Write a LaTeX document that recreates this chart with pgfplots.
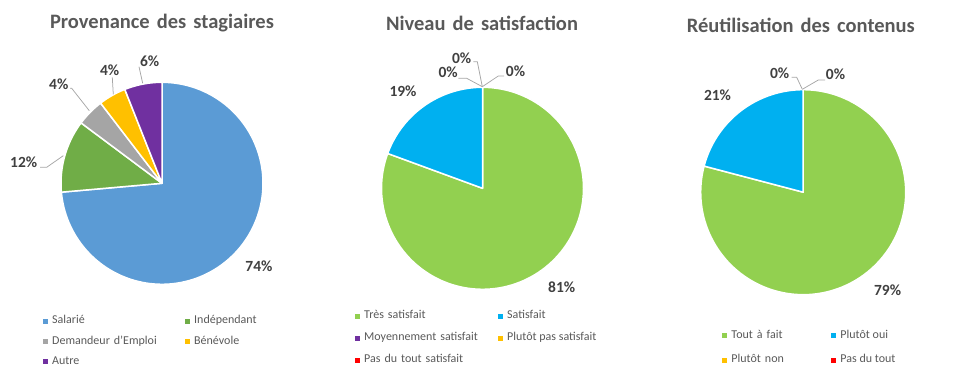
\documentclass[border=0pt]{standalone}
\usepackage{fontspec}
\setmainfont{Carlito}
\usepackage{pgfplots}
\pgfplotsset{compat=1.18}
\definecolor{pBlue}{HTML}{5B9BD5}
\definecolor{pGreen}{HTML}{70AD47}
\definecolor{pGray}{HTML}{A5A5A5}
\definecolor{pGold}{HTML}{FFC000}
\definecolor{pPurple}{HTML}{7030A0}
\definecolor{sGreen}{HTML}{92D050}
\definecolor{sBlue}{HTML}{00B0F0}
\definecolor{sRed}{HTML}{FF0000}
\definecolor{cTitle}{HTML}{595959}
\definecolor{cLeg}{HTML}{595959}
\definecolor{cLab}{HTML}{404040}
\definecolor{cLead}{HTML}{A6A6A6}
\pgfplotsset{
  frame/.style={
    xmin=0, xmax=962, ymin=-380, ymax=0,
    width=962pt, height=380pt, scale only axis, hide axis, clip=false,
    at={(0pt,0pt)}, anchor=south west,
    legend columns=2, legend cell align=left,
    legend image code/.code={\fill[##1, draw=none] (0pt,-2.5pt) rectangle (5pt,2.5pt);},
    legend style={draw=none, fill=none, inner sep=0pt, anchor=north west,
      font=\fontsize{12}{14}\selectfont, text=cLeg,
      nodes={inner sep=0pt, text height=8pt, text depth=2.5pt, anchor=west},
      /tikz/column 1/.style={column sep=4pt},
      /tikz/column 3/.style={column sep=4pt}},
  },
  slice/.style={draw=white, line width=1.5pt, line join=round, samples=120, forget plot},
}
\tikzset{
  lab/.style={font=\bfseries\fontsize{15.5}{18}\selectfont, text=cLab, inner sep=0pt, anchor=center},
  ttl/.style={font=\bfseries\fontsize{20.5}{24}\selectfont, text=cTitle, inner sep=0pt, anchor=base},
  lead/.style={draw=cLead, line width=0.75pt},
}
\begin{document}
\begin{tikzpicture}
\path[use as bounding box] (0pt,0pt) rectangle (962pt,380pt);
% ---------------- Chart 1 : Provenance des stagiaires (center 162,183.3 ; R=101)
\begin{axis}[frame,
  legend style={at={(0.0447,0.1691)}, row sep=9.8pt,
    /tikz/column 2/.style={column sep=0pt, nodes={text width=133pt, align=left}}}]
\addplot[slice, fill=pBlue, domain=0:73.6]
  ({162+101*cos(90-3.6*x)},{-183.3+101*sin(90-3.6*x)}) -- (162,-183.3) -- cycle;
\addplot[slice, fill=pGreen, domain=73.6:85.2]
  ({162+101*cos(90-3.6*x)},{-183.3+101*sin(90-3.6*x)}) -- (162,-183.3) -- cycle;
\addplot[slice, fill=pGray, domain=85.2:89.6]
  ({162+101*cos(90-3.6*x)},{-183.3+101*sin(90-3.6*x)}) -- (162,-183.3) -- cycle;
\addplot[slice, fill=pGold, domain=89.6:94.0]
  ({162+101*cos(90-3.6*x)},{-183.3+101*sin(90-3.6*x)}) -- (162,-183.3) -- cycle;
\addplot[slice, fill=pPurple, domain=94.0:100]
  ({162+101*cos(90-3.6*x)},{-183.3+101*sin(90-3.6*x)}) -- (162,-183.3) -- cycle;
\addlegendimage{fill=pBlue}\addlegendentry{Salarié}
\addlegendimage{fill=pGreen}\addlegendentry{Indépendant}
\addlegendimage{fill=pGray}\addlegendentry{Demandeur d'Emploi}
\addlegendimage{fill=pGold}\addlegendentry{Bénévole}
\addlegendimage{fill=pPurple}\addlegendentry{Autre}
\node[ttl] at (162,-28.7) {Provenance\hspace{0.12em} des\hspace{0.12em} stagiaires};
\node[lab] at (259,-266.3) {74\%};
\node[lab] at (23.7,-162.5) {12\%};
\node[lab] at (58.8,-83.8) {4\%};
\node[lab] at (109.7,-70) {4\%};
\node[lab] at (149.7,-61.3) {6\%};
\draw[lead] (40,-167.3) -- (46.7,-167.3) -- (63.3,-155.7);
\draw[lead] (70,-88.3) -- (71.7,-88.3) -- (89.3,-110.7);
\draw[lead] (112.3,-77.3) -- (113.3,-94.3);
\draw[lead] (139,-66.7) -- (142.7,-83.3);
\end{axis}
% ---------------- Chart 2 : Niveau de satisfaction (center 482.5,188.3 ; R=101)
\begin{axis}[frame,
  legend style={at={(0.3690,0.1822)}, row sep=11.5pt,
    /tikz/column 2/.style={column sep=0pt, nodes={text width=134pt, align=left}}}]
\addplot[slice, fill=sGreen, domain=0:80.6]
  ({482.5+101*cos(90-3.6*x)},{-188.3+101*sin(90-3.6*x)}) -- (482.5,-188.3) -- cycle;
\addplot[slice, fill=sBlue, domain=80.6:100]
  ({482.5+101*cos(90-3.6*x)},{-188.3+101*sin(90-3.6*x)}) -- (482.5,-188.3) -- cycle;
\addlegendimage{fill=sGreen}\addlegendentry{Très satisfait}
\addlegendimage{fill=sBlue}\addlegendentry{Satisfait}
\addlegendimage{fill=pPurple}\addlegendentry{Moyennement satisfait}
\addlegendimage{fill=pGold}\addlegendentry{Plutôt pas satisfait}
\addlegendimage{fill=sRed}\addlegendentry{Pas du tout satisfait}
\node[ttl] at (482,-31) {Niveau\hspace{0.12em} de\hspace{0.12em} satisfaction};
\node[lab] at (561.7,-287) {81\%};
\node[lab] at (403,-91) {19\%};
\node[lab] at (461.7,-58.3) {0\%};
\node[lab] at (448.2,-72.7) {0\%};
\node[lab] at (515.5,-70.8) {0\%};
\draw[lead] (473.3,-61.7) -- (477.3,-61.7) -- (482.3,-86.7);
\draw[lead] (458.3,-78.3) -- (466.7,-78.3) -- (482.3,-86.7);
\draw[lead] (482.3,-86.7) -- (498.3,-76) -- (504,-76);
\end{axis}
% ---------------- Chart 3 : Réutilisation des contenus (center 803.2,192.2 ; R=102.5)
\begin{axis}[frame,
  legend style={at={(0.7508,0.1304)}, row sep=13.8pt,
    /tikz/column 2/.style={column sep=0pt, nodes={text width=100pt, align=left}}}]
\addplot[slice, fill=sGreen, domain=0:79.1]
  ({803.2+102.5*cos(90-3.6*x)},{-192.2+102.5*sin(90-3.6*x)}) -- (803.2,-192.2) -- cycle;
\addplot[slice, fill=sBlue, domain=79.1:100]
  ({803.2+102.5*cos(90-3.6*x)},{-192.2+102.5*sin(90-3.6*x)}) -- (803.2,-192.2) -- cycle;
\addlegendimage{fill=sGreen}\addlegendentry{Tout à fait}
\addlegendimage{fill=sBlue}\addlegendentry{Plutôt oui}
\addlegendimage{fill=pGold}\addlegendentry{Plutôt non}
\addlegendimage{fill=sRed}\addlegendentry{Pas du tout}
\node[ttl] at (800.8,-32.3) {Réutilisation\hspace{0.12em} des\hspace{0.12em} contenus};
\node[lab] at (887.6,-290) {79\%};
\node[lab] at (717.5,-95.7) {21\%};
\node[lab] at (779.7,-73.3) {0\%};
\node[lab] at (835.5,-74) {0\%};
\draw[lead] (791.7,-77.3) -- (796.7,-77.3) -- (802.3,-89.3);
\draw[lead] (802.3,-89.3) -- (818.3,-80) -- (825,-80);
\end{axis}
\end{tikzpicture}
\end{document}
